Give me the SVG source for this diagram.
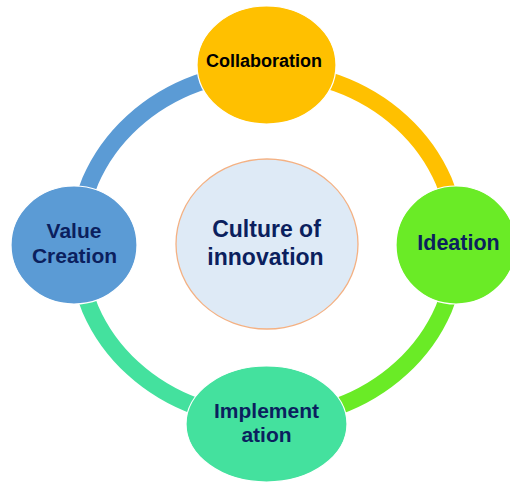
<svg xmlns="http://www.w3.org/2000/svg" width="510" height="483" viewBox="0 0 510 483">
  <style>
    .ring { fill: none; stroke-width: 17; stroke-linecap: butt; }
    .node { stroke: #ffffff; stroke-width: 1.2; }
    .label { font-family: "Liberation Sans", Arial, sans-serif; font-weight: bold; text-anchor: middle; fill: #0b1f5e; }
  </style>
  <rect width="510" height="483" fill="#ffffff"/>

  <!-- ring segments joining the four stages -->
  <g id="connectors">
    <path class="ring" stroke="#5b9bd5" d="M 77 245 A 190 174 0 0 1 267 71"/>
    <path class="ring" stroke="#ffc000" d="M 267 71 A 190 174 0 0 1 457 245"/>
    <path class="ring" stroke="#6aeb26" d="M 457 245 A 190 174 0 0 1 267 419"/>
    <path class="ring" stroke="#44e19e" d="M 267 419 A 190 174 0 0 1 77 245"/>
  </g>

  <g id="culture">
    <ellipse cx="267" cy="244" rx="91" ry="85" fill="#deeaf6" stroke="#f4b183" stroke-width="1.3"/>
    <text class="label" x="266.5" y="237" font-size="23">Culture of</text>
    <text class="label" x="265.5" y="265" font-size="23">innovation</text>
  </g>

  <g id="collaboration">
    <ellipse class="node" cx="266.5" cy="65" rx="69.5" ry="59" fill="#ffc000"/>
    <text class="label" x="264" y="67" font-size="18" fill="#000000" style="fill:#000000">Collaboration</text>
  </g>

  <g id="ideation">
    <ellipse class="node" cx="456" cy="245" rx="60" ry="59" fill="#6aeb26"/>
    <text class="label" x="458.5" y="250" font-size="21.5">Ideation</text>
  </g>

  <g id="implementation">
    <ellipse class="node" cx="266.5" cy="424" rx="80.5" ry="58" fill="#44e19e"/>
    <text class="label" x="266.5" y="418" font-size="21">Implement</text>
    <text class="label" x="266.5" y="442" font-size="21">ation</text>
  </g>

  <g id="value-creation">
    <ellipse class="node" cx="74" cy="245" rx="63" ry="59" fill="#5b9bd5"/>
    <text class="label" x="74" y="238" font-size="21">Value</text>
    <text class="label" x="74.5" y="263" font-size="21">Creation</text>
  </g>
</svg>
